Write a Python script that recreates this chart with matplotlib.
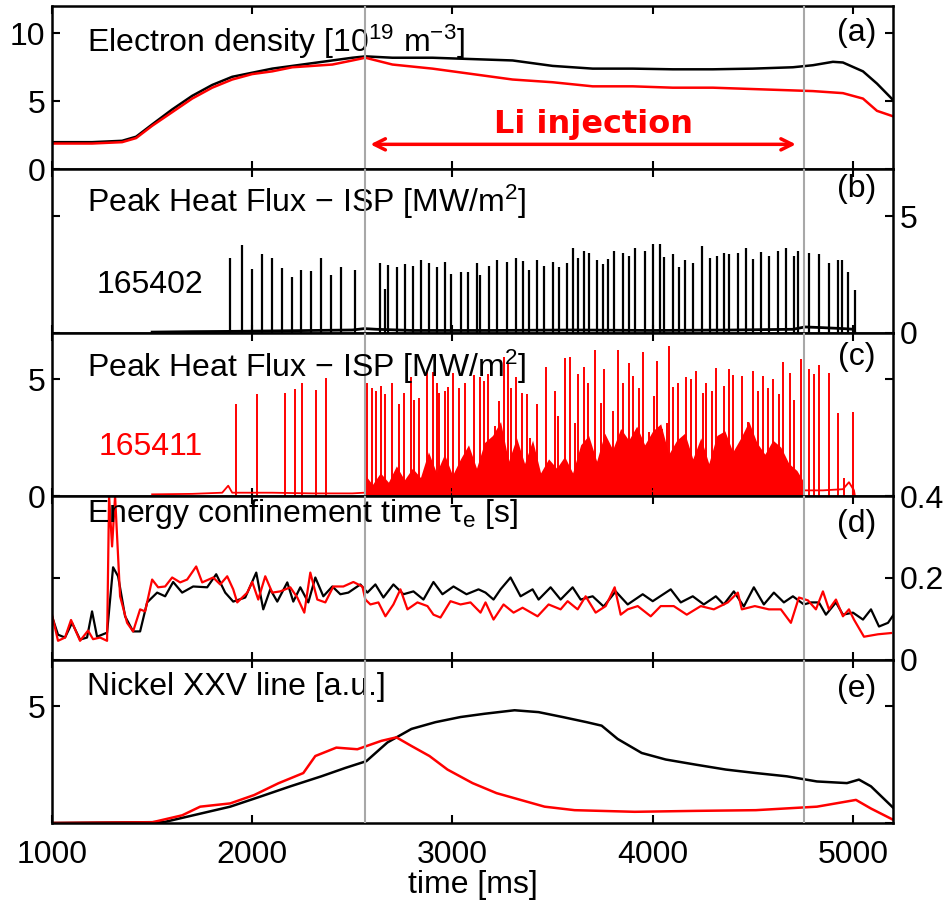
import numpy as np
import matplotlib
matplotlib.use("Agg")
import matplotlib.pyplot as plt

plt.rcParams['font.family'] = ['Liberation Sans', 'DejaVu Sans']
plt.rcParams['mathtext.fontset'] = 'custom'
plt.rcParams['mathtext.rm'] = 'Liberation Sans'
plt.rcParams['mathtext.it'] = 'Liberation Sans'

RED = '#ff0000'
GRAY = '#a8a8a8'
FS = 23

# shot numbers and the Li injection window [ms]
shot_ref = '165402'
shot_li = '165411'
li_start, li_end = 2565, 4755

# (a) electron density [1e19 m^-3]
ne_t = [1000, 1200, 1350, 1420, 1500, 1600, 1700, 1800, 1900, 2000, 2100, 2200,
        2300, 2400, 2500, 2565, 2700, 2900, 3100, 3300, 3500, 3700, 3900, 4100,
        4300, 4500, 4700, 4800, 4900, 4950, 5050, 5120, 5200]
ne_black = [2.0, 2.0, 2.1, 2.4, 3.3, 4.4, 5.4, 6.2, 6.8, 7.1, 7.4, 7.6,
            7.8, 8.0, 8.2, 8.3, 8.2, 8.2, 8.1, 8.0, 7.6, 7.4, 7.4, 7.35,
            7.35, 7.4, 7.5, 7.65, 7.9, 7.85, 7.2, 6.3, 5.1]
ne_red = [1.9, 1.9, 2.0, 2.3, 3.2, 4.2, 5.2, 6.0, 6.6, 7.0, 7.2, 7.5,
          7.6, 7.7, 8.0, 8.2, 7.7, 7.4, 7.0, 6.6, 6.4, 6.1, 6.1, 6.0,
          6.0, 5.9, 5.8, 5.75, 5.65, 5.6, 5.2, 4.3, 3.9]

# (b) peak heat flux, reference shot: ELM spikes [ms], [MW/m2]
elm_b_t = [1890, 1950, 2000, 2050, 2100, 2150, 2200, 2245, 2295, 2345, 2395, 2445,
           2515, 2640, 2665, 2680, 2725, 2765, 2805, 2845, 2885, 2925, 2965, 2995,
           3045, 3075, 3120, 3135, 3180, 3220, 3270, 3315, 3350, 3380, 3420, 3455,
           3500, 3530, 3570, 3600, 3625, 3655, 3680, 3720, 3750, 3775, 3805, 3850,
           3880, 3910, 3960, 4000, 4035, 4055, 4100, 4130, 4160, 4200, 4245, 4285,
           4320, 4355, 4380, 4425, 4465, 4500, 4540, 4580, 4625, 4665, 4705, 4725,
           4780, 4830, 4880, 4925, 4945, 4975, 5010]
elm_b_h = [3.2, 3.75, 2.74, 3.38, 3.2, 2.77, 2.4, 2.7, 2.65, 3.2, 2.48, 2.8,
           2.68, 3.0, 1.87, 2.9, 2.84, 2.96, 2.88, 3.1, 3.0, 2.8, 3.03, 2.52,
           2.6, 2.6, 3.0, 2.48, 2.88, 3.1, 3.03, 3.2, 3.06, 2.67, 3.1, 2.88,
           3.03, 2.8, 3.0, 3.65, 3.2, 3.5, 3.42, 3.1, 2.93, 3.17, 3.5, 3.4,
           3.3, 3.64, 3.5, 3.8, 3.8, 3.25, 3.38, 2.84, 3.1, 2.97, 3.7, 3.2,
           3.3, 3.43, 3.38, 3.42, 3.64, 3.17, 3.46, 3.3, 3.5, 3.64, 3.28, 3.5,
           3.42, 3.36, 3.0, 3.1, 3.13, 2.62, 1.83]
base_b_t = [1500, 1700, 1880, 2100, 2300, 2500, 2560, 2620, 2800, 3200, 3600,
            4000, 4400, 4700, 4760, 4850, 4950, 5005, 5010]
base_b_v = [0.03, 0.05, 0.06, 0.08, 0.1, 0.12, 0.18, 0.15, 0.1, 0.1, 0.12,
            0.1, 0.12, 0.15, 0.25, 0.22, 0.18, 0.15, 0.0]

# (c) peak heat flux, Li shot
elm_c_t = [1920, 2025, 2165, 2215, 2250, 2320, 2370,
           2575, 2600, 2620, 2645, 2665, 2700, 2735, 2760, 2795, 2810, 2835, 2875,
           2905, 2925, 2935, 2965, 2980, 3005, 3035, 3065, 3105, 3135, 3155, 3175,
           3210, 3230, 3255, 3275, 3290, 3315, 3345, 3370, 3385, 3420, 3465, 3510,
           3525, 3560, 3585, 3610, 3625, 3655, 3675, 3710, 3740, 3755, 3800, 3825,
           3850, 3880, 3900, 3930, 3950, 3980, 4005, 4020, 4045, 4070, 4080, 4100,
           4125, 4165, 4190, 4215, 4250, 4265, 4295, 4315, 4355, 4380, 4400, 4445,
           4475, 4500, 4525, 4550, 4575, 4600, 4630, 4650, 4685, 4705, 4740,
           4780, 4805, 4830, 4880, 4925, 4955, 5000]
elm_c_h = [3.97, 4.39, 4.4, 4.58, 4.87, 4.55, 5.06,
           4.87, 4.65, 4.5, 4.7, 4.36, 4.87, 3.97, 4.43, 5.09, 4.14, 4.2, 5.38,
           5.3, 4.87, 4.43, 4.5, 4.68, 5.26, 4.65, 4.83, 5.19, 5.12, 4.94, 5.23,
           3.0, 4.07, 5.96, 5.67, 4.65, 5.09, 4.43, 4.39, 2.48, 3.93, 5.52, 4.5,
           3.42, 5.91, 5.96, 3.13, 5.23, 5.55, 4.83, 6.25, 4.0, 5.45, 3.64, 6.28,
           4.87, 5.7, 5.16, 4.65, 6.17, 2.77, 4.29, 5.81, 2.9, 3.13, 6.42, 4.68,
           4.83, 5.09, 5.0, 5.38, 4.43, 4.87, 4.5, 5.48, 4.72, 5.45, 5.19, 5.13,
           3.2, 5.38, 4.5, 5.16, 4.65, 5.0, 4.36, 5.77, 5.26, 4.14, 5.88,
           5.45, 5.23, 5.64, 5.26, 3.57, 0.8, 3.6]
clutter_t = [2565, 2600, 2640, 2680, 2720, 2760, 2800, 2840, 2880, 2920, 2960, 3000,
             3040, 3080, 3120, 3160, 3200, 3240, 3280, 3320, 3360, 3400, 3440, 3480,
             3520, 3560, 3600, 3640, 3680, 3720, 3760, 3800, 3840, 3880, 3920, 3960,
             4000, 4040, 4080, 4120, 4160, 4200, 4240, 4280, 4320, 4360, 4400, 4440,
             4480, 4520, 4560, 4600, 4640, 4680, 4720, 4755]
clutter_v = [0.9, 0.5, 1.0, 0.6, 1.3, 0.7, 1.2, 0.8, 1.9, 1.0, 1.8, 0.9,
             1.6, 2.2, 1.2, 2.3, 2.6, 3.2, 1.5, 2.5, 1.4, 2.4, 1.0, 1.6,
             1.2, 1.7, 1.0, 2.2, 2.6, 1.5, 2.7, 2.0, 2.9, 2.4, 3.0, 2.2,
             2.8, 3.1, 1.8, 2.4, 2.7, 1.6, 2.5, 1.4, 2.6, 2.8, 1.9, 2.5,
             3.2, 2.3, 1.8, 2.4, 2.1, 1.4, 1.1, 0.6]
base_c_t = [1500, 1700, 1850, 1880, 1900, 2100, 2300, 2500, 2560,
            4760, 4850, 4950, 4980, 5005, 5010]
base_c_v = [0.08, 0.1, 0.15, 0.45, 0.15, 0.15, 0.12, 0.12, 0.15,
            0.25, 0.25, 0.3, 0.6, 0.25, 0.0]

# (d) energy confinement time [s]
tau_black_t = [1000, 1030, 1065, 1100, 1140, 1175, 1200, 1225, 1275, 1305, 1330,
               1365, 1405, 1440, 1475, 1525, 1565, 1605, 1650, 1705, 1775, 1820,
               1865, 1905, 1965, 2020, 2055, 2090, 2125, 2175, 2205, 2240, 2280,
               2315, 2355, 2400, 2440, 2480, 2540, 2575, 2615, 2655, 2705, 2755,
               2805, 2855, 2905, 2950, 3005, 3070, 3130, 3165, 3205, 3240, 3290,
               3340, 3400, 3430, 3490, 3540, 3600, 3640, 3700, 3755, 3815, 3875,
               3950, 4000, 4090, 4140, 4200, 4255, 4315, 4355, 4405, 4455, 4505,
               4555, 4605, 4655, 4700, 4755, 4790, 4830, 4865, 4915, 4950, 5000,
               5050, 5090, 5130, 5175, 5210]
tau_black = [0.106, 0.061, 0.054, 0.09, 0.049, 0.054, 0.118, 0.056, 0.066, 0.226, 0.204,
             0.106, 0.069, 0.069, 0.14, 0.164, 0.155, 0.19, 0.164, 0.179, 0.177, 0.209,
             0.164, 0.142, 0.152, 0.213, 0.123, 0.172, 0.142, 0.189, 0.142, 0.177, 0.14,
             0.201, 0.155, 0.179, 0.16, 0.164, 0.184, 0.164, 0.184, 0.152, 0.184, 0.16,
             0.167, 0.147, 0.19, 0.16, 0.179, 0.16, 0.172, 0.164, 0.147, 0.172, 0.201,
             0.155, 0.172, 0.147, 0.177, 0.147, 0.177, 0.147, 0.155, 0.13, 0.167, 0.135,
             0.16, 0.143, 0.172, 0.14, 0.155, 0.135, 0.155, 0.135, 0.167, 0.13, 0.177,
             0.135, 0.164, 0.14, 0.155, 0.135, 0.14, 0.14, 0.11, 0.14, 0.11, 0.115,
             0.098, 0.123, 0.081, 0.09, 0.115]
tau_red_t = [1000, 1030, 1065, 1095, 1140, 1180, 1205, 1240, 1275, 1285, 1300, 1315,
             1340, 1375, 1405, 1440, 1465, 1500, 1530, 1565, 1600, 1640, 1675, 1720,
             1750, 1805, 1840, 1875, 1905, 1925, 1975, 2000, 2030, 2065, 2100, 2140,
             2190, 2225, 2260, 2290, 2325, 2365, 2405, 2455, 2505, 2550, 2565, 2590,
             2630, 2665, 2705, 2740, 2775, 2825, 2875, 2905, 2940, 2990, 3040, 3090,
             3140, 3165, 3205, 3255, 3305, 3350, 3425, 3480, 3540, 3575, 3625, 3665,
             3715, 3765, 3810, 3840, 3875, 3925, 3990, 4040, 4105, 4170, 4240, 4305,
             4375, 4425, 4445, 4510, 4580, 4640, 4690, 4730, 4775, 4815, 4850, 4880,
             4915, 4950, 4980, 5005, 5055, 5125, 5190]
tau_red = [0.11, 0.046, 0.054, 0.097, 0.046, 0.071, 0.05, 0.054, 0.046, 0.4, 0.277, 0.4,
           0.155, 0.09, 0.069, 0.123, 0.118, 0.196, 0.177, 0.179, 0.201, 0.189, 0.196, 0.228,
           0.189, 0.201, 0.184, 0.204, 0.172, 0.14, 0.164, 0.19, 0.147, 0.204, 0.164, 0.167,
           0.177, 0.152, 0.115, 0.213, 0.147, 0.14, 0.179, 0.179, 0.19, 0.179, 0.147, 0.135,
           0.14, 0.106, 0.135, 0.172, 0.123, 0.14, 0.131, 0.11, 0.103, 0.143, 0.135, 0.14,
           0.115, 0.14, 0.098, 0.135, 0.115, 0.127, 0.106, 0.135, 0.123, 0.143, 0.123, 0.155,
           0.115, 0.131, 0.177, 0.11, 0.123, 0.131, 0.106, 0.131, 0.131, 0.11, 0.131, 0.123,
           0.14, 0.164, 0.123, 0.131, 0.123, 0.123, 0.09, 0.152, 0.145, 0.123, 0.167, 0.123,
           0.147, 0.106, 0.123, 0.098, 0.056, 0.062, 0.065]

# (e) Nickel XXV line [a.u.]
ni_black_t = [1000, 1560, 1740, 1890, 2040, 2190, 2345, 2465, 2570, 2675, 2795, 2915,
              3040, 3160, 3310, 3430, 3550, 3670, 3745, 3825, 3945, 4065, 4215, 4365,
              4515, 4670, 4820, 4970, 5030, 5090, 5205]
ni_black = [0.0, 0.04, 0.4, 0.7, 1.13, 1.57, 2.0, 2.36, 2.65, 3.45, 4.03, 4.32,
            4.54, 4.68, 4.83, 4.75, 4.54, 4.32, 4.17, 3.6, 3.0, 2.72, 2.5, 2.29,
            2.14, 2.0, 1.78, 1.71, 1.86, 1.57, 0.62]
ni_red_t = [1000, 1500, 1650, 1740, 1890, 2010, 2130, 2255, 2315, 2420, 2525, 2645,
            2720, 2795, 2885, 2975, 3100, 3220, 3340, 3460, 3610, 3910, 4215, 4515,
            4820, 5015, 5090, 5205]
ni_red = [0.0, 0.03, 0.33, 0.7, 0.84, 1.2, 1.7, 2.14, 2.87, 3.23, 3.16, 3.52,
          3.67, 3.3, 2.87, 2.29, 1.71, 1.28, 0.99, 0.7, 0.55, 0.48, 0.52, 0.55,
          0.7, 0.99, 0.62, 0.12]

fig = plt.figure(figsize=(9.49, 9.07), dpi=100)
axs = fig.subplots(5, 1, sharex=True)
fig.subplots_adjust(left=0.0548, right=0.941, top=0.9934, bottom=0.0926, hspace=0)

for ax in axs:
    ax.set_xlim(1000, 5200)
    ax.set_xticks([1000, 2000, 3000, 4000, 5000])
    ax.tick_params(direction='in', length=6, width=1.5, top=True, right=True,
                   labelsize=FS, pad=5)
    ax.tick_params(axis='x', pad=12)
    for s in ax.spines.values():
        s.set_linewidth(1.8)
    ax.axvline(li_start, color=GRAY, lw=1.5, zorder=5)
    ax.axvline(li_end, color=GRAY, lw=1.5, zorder=5)

lab_kw = dict(fontsize=FS, va='center', ha='left')
tag_kw = dict(fontsize=FS, va='center', ha='center')

# (a)
ax = axs[0]
ax.plot(ne_t, ne_black, color='k', lw=1.8)
ax.plot(ne_t, ne_red, color=RED, lw=1.8)
ax.set_ylim(0, 12)
ax.set_yticks([0, 5, 10])
ax.text(0.042, 0.78, 'Electron density [10$^{19}$ m$^{-3}$]', transform=ax.transAxes, **lab_kw)
ax.text(0.957, 0.835, '(a)', transform=ax.transAxes, **tag_kw)
ax.annotate('', xy=(2590, 1.84), xytext=(4715, 1.84),
            arrowprops=dict(arrowstyle='<->,head_length=0.8,head_width=0.4',
                            color=RED, lw=2.5, shrinkA=0, shrinkB=0))
ax.text(3705, 3.3, 'Li injection', color=RED, fontsize=23, fontweight='bold',
        family=['DejaVu Sans'], ha='center', va='center')

# (b)
ax = axs[1]
ax.plot(base_b_t, base_b_v, color='k', lw=2.0)
ax.vlines(elm_b_t, 0, elm_b_h, color='k', lw=1.6)
ax.set_ylim(0, 7)
ax.set_yticks([0, 5])
ax.tick_params(labelleft=False, labelright=True)
ax.text(0.042, 0.80, 'Peak Heat Flux \u2212 ISP [MW/m$^2$]', transform=ax.transAxes, **lab_kw)
ax.text(0.957, 0.877, '(b)', transform=ax.transAxes, **tag_kw)
ax.text(0.117, 0.29, shot_ref, transform=ax.transAxes, fontsize=FS, color='k',
        ha='center', va='center')

# (c)
ax = axs[2]
ax.plot(base_c_t, base_c_v, color=RED, lw=1.3)
ax.fill_between(clutter_t, 0, clutter_v, color=RED, lw=0)
ax.vlines(elm_c_t, 0, elm_c_h, color=RED, lw=1.4)
ax.set_ylim(0, 7)
ax.set_yticks([0, 5])
ax.text(0.042, 0.79, 'Peak Heat Flux \u2212 ISP [MW/m$^2$]', transform=ax.transAxes,
        zorder=6, **lab_kw)
ax.text(0.957, 0.85, '(c)', transform=ax.transAxes, **tag_kw)
ax.text(0.117, 0.30, shot_li, transform=ax.transAxes, fontsize=FS, color=RED,
        ha='center', va='center')

# (d)
ax = axs[3]
ax.plot(tau_black_t, tau_black, color='k', lw=1.6)
ax.plot(tau_red_t, tau_red, color=RED, lw=1.6)
ax.set_ylim(0, 0.4)
ax.set_yticks([0, 0.2, 0.4])
ax.set_yticklabels(['0', '0.2', '0.4'])
ax.tick_params(labelleft=False, labelright=True)
ax.text(0.042, 0.89, 'Energy confinement time \u03c4$_\\mathrm{e}$ [s]', transform=ax.transAxes,
        zorder=6, **lab_kw)
ax.text(0.957, 0.83, '(d)', transform=ax.transAxes, **tag_kw)

# (e)
ax = axs[4]
ax.plot(ni_black_t, ni_black, color='k', lw=1.8)
ax.plot(ni_red_t, ni_red, color=RED, lw=1.8)
ax.set_ylim(0, 7)
ax.set_yticks([0, 5])
ax.set_yticklabels(['', '5'])
ax.text(0.042, 0.83, 'Nickel XXV line [a.u.]', transform=ax.transAxes, **lab_kw)
ax.text(0.957, 0.82, '(e)', transform=ax.transAxes, **tag_kw)
ax.set_xlabel('time [ms]', fontsize=FS, labelpad=0)

fig.savefig('out.png', dpi=100)
